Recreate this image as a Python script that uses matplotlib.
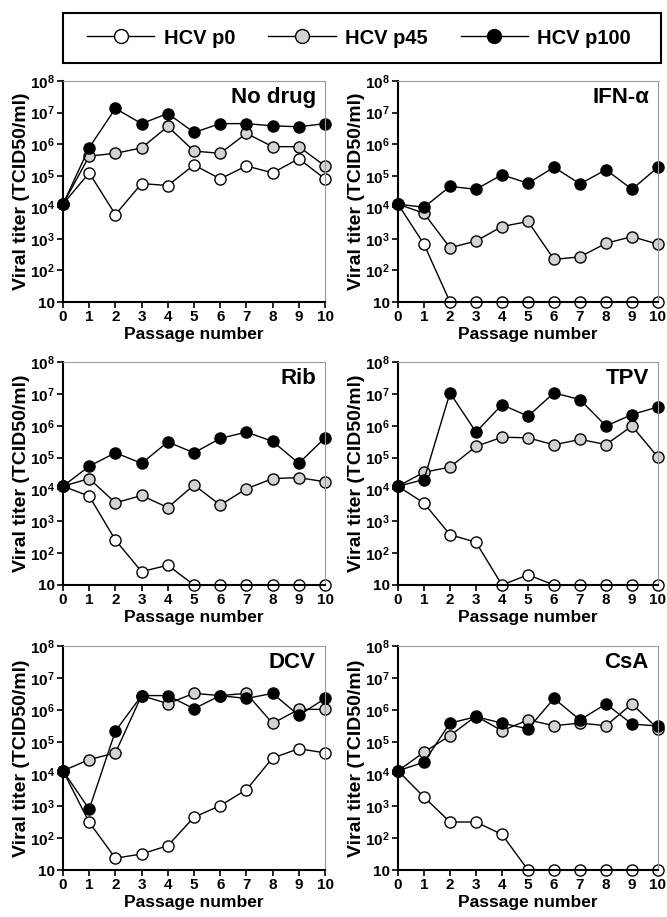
import numpy as np
import matplotlib
matplotlib.use('Agg')
import matplotlib.pyplot as plt
from matplotlib.lines import Line2D
from matplotlib.patches import Rectangle

plt.rcParams['font.family'] = ['Liberation Sans', 'DejaVu Sans']
plt.rcParams['font.weight'] = 'bold'
plt.rcParams['mathtext.fontset'] = 'custom'
plt.rcParams['mathtext.rm'] = 'Liberation Sans:bold'
plt.rcParams['mathtext.bf'] = 'Liberation Sans:bold'

passages = list(range(0, 11))
series_names = ['HCV p0', 'HCV p45', 'HCV p100']
series_colors = ['white', '#d3d3d3', 'black']
panel_titles = ['No drug', 'IFN-α', 'Rib', 'TPV', 'DCV', 'CsA']

# log10 of viral titer (TCID50/ml)
nodrug_p0 = [4.1, 5.09, 3.77, 4.75, 4.69, 5.34, 4.90, 5.31, 5.09, 5.54, 4.90]
nodrug_p45 = [4.1, 5.62, 5.71, 5.88, 6.56, 5.78, 5.71, 6.34, 5.92, 5.92, 5.31]
nodrug_p100 = [4.1, 5.89, 7.13, 6.65, 6.97, 6.37, 6.65, 6.65, 6.58, 6.55, 6.65]

ifn_p0 = [4.1, 2.83, 1, 1, 1, 1, 1, 1, 1, 1, 1]
ifn_p45 = [4.1, 3.81, 2.72, 2.93, 3.39, 3.55, 2.35, 2.43, 2.86, 3.07, 2.83]
ifn_p100 = [4.1, 4.00, 4.66, 4.57, 5.03, 4.76, 5.27, 4.74, 5.19, 4.57, 5.27]

rib_p0 = [4.1, 3.79, 2.41, 1.42, 1.62, 1, 1, 1, 1, 1, 1]
rib_p45 = [4.1, 4.34, 3.58, 3.81, 3.43, 4.14, 3.51, 4.02, 4.34, 4.37, 4.24]
rib_p100 = [4.1, 4.73, 5.15, 4.82, 5.49, 5.15, 5.60, 5.80, 5.51, 4.82, 5.62]

tpv_p0 = [4.1, 3.57, 2.58, 2.34, 1, 1.32, 1, 1, 1, 1, 1]
tpv_p45 = [4.1, 4.54, 4.70, 5.35, 5.64, 5.62, 5.40, 5.57, 5.41, 5.99, 5.01]
tpv_p100 = [4.1, 4.31, 7.03, 5.80, 6.66, 6.30, 7.03, 6.82, 5.99, 6.35, 6.59]

dcv_p0 = [4.1, 2.49, 1.37, 1.50, 1.76, 2.65, 3.01, 3.51, 4.50, 4.79, 4.66]
dcv_p45 = [4.1, 4.45, 4.66, 6.45, 6.20, 6.52, 6.45, 6.52, 5.58, 6.02, 6.02]
dcv_p100 = [4.1, 2.90, 5.34, 6.45, 6.45, 6.04, 6.45, 6.36, 6.52, 5.83, 6.36]

csa_p0 = [4.1, 3.28, 2.50, 2.50, 2.11, 1, 1, 1, 1, 1, 1]
csa_p45 = [4.1, 4.68, 5.20, 5.81, 5.35, 5.69, 5.51, 5.59, 5.51, 6.19, 5.41]
csa_p100 = [4.1, 4.37, 5.59, 5.79, 5.59, 5.41, 6.36, 5.69, 6.19, 5.56, 5.50]

panels = [
    (nodrug_p0, nodrug_p45, nodrug_p100),
    (ifn_p0, ifn_p45, ifn_p100),
    (rib_p0, rib_p45, rib_p100),
    (tpv_p0, tpv_p45, tpv_p100),
    (dcv_p0, dcv_p45, dcv_p100),
    (csa_p0, csa_p45, csa_p100),
]

yticks = [10 ** k for k in range(1, 9)]
ytick_labels = ['10'] + [r'$\mathbf{10^{%d}}$' % k for k in range(2, 9)]

fig = plt.figure(figsize=(6.67, 9.17), dpi=100)

W, H = 667.0, 917.0
col_x = [(63, 262), (398, 260)]
row_y = [(81, 302), (362, 585), (646, 870)]

for i, (title, data) in enumerate(zip(panel_titles, panels)):
    r, c = divmod(i, 2)
    x0, w = col_x[c]
    top, bot = row_y[r]
    ax = fig.add_axes([x0 / W, 1 - bot / H, w / W, (bot - top) / H])

    for vals, color, name in zip(data, series_colors, series_names):
        ax.plot(passages, np.power(10.0, vals), '-o', color='black', lw=1,
                markerfacecolor=color, markeredgecolor='black',
                markeredgewidth=1, markersize=8, label=name, clip_on=False)

    ax.set_yscale('log')
    ax.set_ylim(10, 1e8)
    ax.set_xlim(0, 10)
    ax.set_yticks(yticks)
    ax.set_yticklabels(ytick_labels)
    ax.minorticks_off()
    ax.set_xticks(passages)
    ax.tick_params(axis='both', direction='out', length=4, width=1.2,
                   labelsize=11)
    ax.tick_params(axis='y', labelsize=11, pad=2)
    ax.tick_params(axis='x', pad=2)
    for s in ['left', 'bottom']:
        ax.spines[s].set_linewidth(1.5)
        ax.spines[s].set_color('black')
    for s in ['top', 'right']:
        ax.spines[s].set_linewidth(0.8)
        ax.spines[s].set_color('#9a9a9a')

    ax.set_xlabel('Passage number', fontsize=12.5, fontweight='bold', labelpad=2)
    ax.set_ylabel('Viral titer (TCID50/ml)', fontsize=14, fontweight='bold')
    ax.yaxis.set_label_coords(-0.127, 0.5)
    ax.text(0.965, 0.975, title, transform=ax.transAxes, ha='right', va='top',
            fontsize=16, fontweight='bold')

handles = [Line2D([0], [0], color='black', lw=1, marker='o', markersize=10,
                  markerfacecolor=col, markeredgecolor='black', markeredgewidth=1)
           for col in series_colors]
leg = fig.legend(handles, series_names, loc='center', ncol=3,
                 bbox_to_anchor=(359 / W, 1 - 38 / H),
                 frameon=False, handlelength=3.35, handletextpad=0.45,
                 columnspacing=1.65, borderaxespad=0, borderpad=0,
                 prop={'weight': 'bold', 'size': 14.5})

fig.add_artist(Rectangle((63 / W, 1 - 63 / H), 598 / W, 50 / H,
                         transform=fig.transFigure, fill=False,
                         edgecolor='black', linewidth=1.5))

fig.savefig('out.png', dpi=100)
